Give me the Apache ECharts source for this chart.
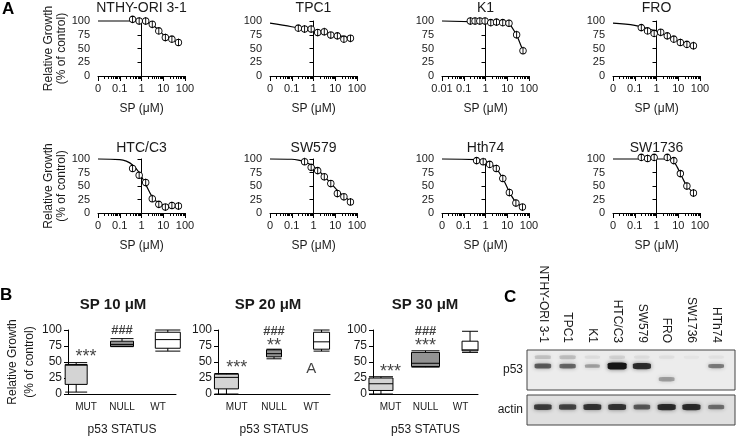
<!DOCTYPE html>
<html><head><meta charset="utf-8">
<script src="https://cdn.jsdelivr.net/npm/echarts@6/dist/echarts.min.js"></script>
<style>html,body{margin:0;padding:0;background:#fff}#c{width:736px;height:437px}</style>
</head><body><div id="c"></div>
<script>
// ---------------- Panel A data ----------------
const cellLines = ['NTHY-ORI 3-1', 'TPC1', 'K1', 'FRO', 'HTC/C3', 'SW579', 'Hth74', 'SW1736'];
const xMajorTicks = [0.01, 0.1, 1, 10, 100];
const xTickLabels = ['0', '0.1', '1', '10', '100'];
const xTickLabelsK1 = ['0.01', '0.1', '1', '10', '100'];
const xMinorTicks = [0.02,0.03,0.04,0.05,0.06,0.07,0.08,0.09,
  0.2,0.3,0.4,0.5,0.6,0.7,0.8,0.9, 2,3,4,5,6,7,8,9, 20,30,40,50,60,70,80,90];
const yTicks = [0, 25, 50, 75, 100];

const nthyX = [0.39, 0.78, 1.56, 3.13, 6.25, 12.5, 25, 50];
const nthyY = [103, 100, 100, 94, 82, 70, 67, 61];
const nthyCurveX = [0.01, 1, 1.56, 3.13, 6.25, 12.5, 25, 50];
const nthyCurveY = [100, 100, 98, 93, 83, 72, 65, 61];

const tpc1X = [0.2, 0.39, 0.78, 1.56, 3.13, 6.25, 12.5, 25, 50];
const tpc1Y = [87, 85.5, 85.5, 79, 80.5, 74.5, 73, 67, 68.5];
const tpc1CurveX = [0.01, 0.1, 1, 10, 50];
const tpc1CurveY = [96, 89.5, 82, 74.5, 69];

const k1X = [0.2, 0.33, 0.55, 0.95, 1.75, 3.2, 6.2, 12, 27, 53];
const k1Y = [100, 100, 100, 100, 97, 98, 97, 96, 75, 46];
const k1CurveX = [0.01, 12, 27, 53];
const k1CurveY = [100, 97, 75, 46];

const froX = [0.2, 0.39, 0.78, 1.56, 3.13, 6.25, 12.5, 25, 50];
const froY = [88, 82, 77.5, 79.5, 73, 67, 61, 57.5, 55];
const froCurveX = [0.01, 0.1, 0.5, 1, 3, 10, 25, 50];
const froCurveY = [96, 92, 85, 81, 73, 63, 58, 55];

const htcX = [0.39, 0.78, 1.56, 3.13, 6.25, 12.5, 25, 50];
const htcY = [82.5, 70, 56.5, 26.5, 16, 11, 14, 13];
const htcCurveX = [0.01, 0.1, 0.2, 0.39, 0.78, 1.56, 3.13, 6.25, 12.5, 25, 50];
const htcCurveY = [100, 99, 96, 89, 75, 53, 30, 18, 14, 13, 13];

const sw579X = [0.39, 0.78, 1.56, 3.13, 6.25, 12.5, 25, 50];
const sw579Y = [95, 84.5, 78.5, 67, 54.5, 36, 30, 20.5];
const sw579CurveX = [0.01, 0.1, 0.2, 0.39, 0.78, 1.56, 3.13, 6.25, 12.5, 25, 50];
const sw579CurveY = [100, 99.5, 98, 95, 89, 80, 68, 55, 42, 31, 22];

const hth74X = [0.39, 0.78, 1.56, 3.13, 6.25, 12.5, 25, 50];
const hth74Y = [97, 95, 90, 82.5, 64, 38, 18.5, 11];
const hth74CurveX = [0.01, 0.39, 0.78, 1.56, 3.13, 6.25, 12.5, 25, 50];
const hth74CurveY = [100, 99, 97, 92, 82, 64, 39, 20, 12];

const sw1736X = [0.2, 0.39, 0.78, 3.13, 6.25, 12.5, 25, 50];
const sw1736Y = [103, 101, 103, 103, 97, 73, 50, 37];
const sw1736CurveX = [0.01, 2, 4, 6.25, 9, 12.5, 18, 25, 50];
const sw1736CurveY = [100, 100, 99, 95, 85, 73, 60, 50, 37];

// ---------------- Panel B data ----------------
const p53Status = ['MUT', 'NULL', 'WT'];
const boxTitles = ['SP 10 \u03bcM', 'SP 20 \u03bcM', 'SP 30 \u03bcM'];
// [min, Q1, median, Q3, max]
const sp10Boxes = [[3, 15, 45, 46, 49], [74, 74.5, 77.5, 82.5, 86.5], [67, 71.5, 85, 96.5, 100]];
const sp20Boxes = [[0, 8, 26, 31, 32], [55, 58, 63, 69, 70], [67, 70, 81.5, 96.5, 100]];
const sp30Boxes = [[0, 5.5, 16, 25, 27], [42, 43, 48, 65, 67.5], [65, 67.5, 69, 82.5, 98]];
const sp10Annot = [['***', 0, 66], ['###', 1, 100]];
const sp20Annot = [['***', 0, 48], ['###', 1, 98], ['**', 1, 83], ['A', 2, 40]];
const sp30Annot = [['***', 0, 42], ['###', 1, 98], ['***', 1, 82]];

// ---------------- Panel C data ----------------
const blotLanes = ['NTHY-ORI 3-1', 'TPC1', 'K1', 'HTC/C3', 'SW579', 'FRO', 'SW1736', 'HTh74'];
const p53Main = [0.6, 0.55, 0.3, 1.0, 0.85, 0, 0, 0.45];
const p53Upper = [0.16, 0.18, 0.06, 0.1, 0.06, 0.05, 0.03, 0.04];
const p53Lower = [0, 0, 0, 0, 0, 0.3, 0, 0];
const actinBand = [0.75, 0.7, 0.8, 0.8, 0.6, 0.85, 0.85, 0.5];
const p53MainPos = 0.6, p53UpperPos = 0.82, p53LowerPos = 0.27, actinPos = 0.6;

// ---------------- build ----------------
const FONT = '"Liberation Sans", Arial, Helvetica, sans-serif';
const TXT = '#1a1a1a';
const doseSets = [
  [nthyX, nthyY, nthyCurveX, nthyCurveY, true],
  [tpc1X, tpc1Y, tpc1CurveX, tpc1CurveY, true],
  [k1X, k1Y, k1CurveX, k1CurveY, false],
  [froX, froY, froCurveX, froCurveY, true],
  [htcX, htcY, htcCurveX, htcCurveY, true],
  [sw579X, sw579Y, sw579CurveX, sw579CurveY, true],
  [hth74X, hth74Y, hth74CurveX, hth74CurveY, true],
  [sw1736X, sw1736Y, sw1736CurveX, sw1736CurveY, true]
];
const colLeft = [98, 270, 442, 613], rowTop = [21, 159], rowH = [55, 54], plotW = 87;

const grid = [], xAxis = [], yAxis = [], series = [], title = [];
const pointSymbol = 'path://M5,-1L5,11M0,5A5,5,0,1,1,10,5A5,5,0,1,1,0,5Z';
const minorTickPos = xMinorTicks.map(v => Math.log10(v));

doseSets.forEach((d, i) => {
  const r = Math.floor(i / 4), c = i % 4;
  grid.push({ left: colLeft[c], top: rowTop[r], width: plotW, height: rowH[r] });
  const labels = i === 2 ? xTickLabelsK1 : xTickLabels;
  xAxis.push({
    gridIndex: i, type: 'log', logBase: 10, min: 0.01, max: 100, position: 'bottom',
    axisLine: { onZero: false, lineStyle: { color: '#000', width: 1 } },
    axisTick: { length: 5, lineStyle: { color: '#000' } },
    axisLabel: { fontSize: 11, color: TXT, fontFamily: FONT, margin: 7,
      formatter: v => { const k = xMajorTicks.findIndex(t => Math.abs(Math.log10(t) - Math.log10(v)) < 0.01); return k >= 0 ? labels[k] : ''; } },
    splitLine: { show: false },
    name: 'SP (\u03bcM)', nameLocation: 'middle', nameGap: 27,
    nameTextStyle: { fontSize: 12, color: TXT, fontFamily: FONT }
  });
  // minor ticks (log-decade subdivisions) on a companion axis in log10 space
  xAxis.push({
    gridIndex: i, type: 'value', min: -2, max: 2, position: 'bottom',
    axisLine: { show: false, onZero: false },
    axisTick: { show: true, length: 3, lineStyle: { color: '#000' }, customValues: minorTickPos },
    axisLabel: { show: false }, splitLine: { show: false }
  });
  yAxis.push({
    gridIndex: i, type: 'value', min: 0, max: 100, interval: 25,
    axisLine: { show: true, lineStyle: { color: '#000', width: 1 } },
    axisTick: { show: true, length: 4, lineStyle: { color: '#000' } },
    axisLabel: { fontSize: 11, color: TXT, fontFamily: FONT, margin: 8 },
    splitLine: { show: false },
    name: c === 0 ? 'Relative Growth\n(% of control)' : '', nameLocation: 'middle', nameRotate: 90, nameGap: 26,
    nameTextStyle: { fontSize: 12, lineHeight: 13, color: TXT, fontFamily: FONT }
  });
  title.push({ text: cellLines[i], left: colLeft[c] + plotW / 2, top: r === 0 ? 1 : 141, textAlign: 'center', padding: 0,
    textStyle: { fontSize: 14, fontWeight: 'normal', color: TXT, fontFamily: FONT } });
  series.push({
    type: 'line', xAxisIndex: 2 * i, yAxisIndex: i, data: d[2].map((x, k) => [x, d[3][k]]),
    smooth: d[4] ? 0.35 : false, showSymbol: false, lineStyle: { color: '#000', width: 1.2 }, silent: true, z: 2, clip: false
  });
  series.push({
    type: 'scatter', xAxisIndex: 2 * i, yAxisIndex: i, data: d[0].map((x, k) => [x, d[1][k]]),
    symbol: pointSymbol, symbolSize: [6.5, 7.8], clip: false,
    itemStyle: { color: '#fff', borderColor: '#000', borderWidth: 1, opacity: 1 }, silent: true, z: 3
  });
});

// Panel B
const boxSets = [sp10Boxes, sp20Boxes, sp30Boxes];
const annSets = [sp10Annot, sp20Annot, sp30Annot];
const boxLeft = [68, 218, 373], boxAxisW = [108, 112, 105];
const boxWidths = [[22, 23, 25], [24, 15, 16], [24, 28, 16]];
const boxFill = ['#d4d4d4', '#939393', '#ffffff'];
const titleCx = [113, 268, 425];
boxSets.forEach((b, p) => {
  const gi = 8 + p;
  grid.push({ left: boxLeft[p], top: 330, width: boxAxisW[p], height: 67 });
  xAxis.push({
    gridIndex: gi, type: 'category', data: p53Status, position: 'bottom', boundaryGap: true,
    axisLine: { onZero: false, lineStyle: { color: '#000' } },
    axisTick: { alignWithLabel: true, length: 3, lineStyle: { color: '#000' } },
    axisLabel: { fontSize: 10, color: TXT, fontFamily: FONT, margin: 8 },
    splitLine: { show: false },
    name: 'p53 STATUS', nameLocation: 'middle', nameGap: 30,
    nameTextStyle: { fontSize: 12, color: TXT, fontFamily: FONT }
  });
  yAxis.push({
    gridIndex: gi, type: 'value', min: 0, max: 100, interval: 25,
    axisLine: { show: true, lineStyle: { color: '#000' } },
    axisTick: { show: true, length: 4, lineStyle: { color: '#000' } },
    axisLabel: { fontSize: 12, color: TXT, fontFamily: FONT, margin: 6 },
    splitLine: { show: false },
    name: p === 0 ? 'Relative Growth\n(% of control)' : '', nameLocation: 'middle', nameRotate: 90, nameGap: 23,
    nameTextStyle: { fontSize: 12, lineHeight: 17, color: TXT, fontFamily: FONT }
  });
  title.push({ text: boxTitles[p], left: titleCx[p], top: 297, textAlign: 'center', padding: 0,
    textStyle: { fontSize: 15, fontWeight: 'bold', color: TXT, fontFamily: FONT } });
  b.forEach((vals, k) => {
    const row = [null, null, null];
    row[k] = vals;
    series.push({
      type: 'boxplot', xAxisIndex: 16 + p, yAxisIndex: gi,
      data: row.map(v => v || '-'), boxWidth: [boxWidths[p][k], boxWidths[p][k]],
      itemStyle: { color: boxFill[k], borderColor: '#000', borderWidth: 1 }, silent: true
    });
  });
  series.push({
    type: 'scatter', xAxisIndex: 16 + p, yAxisIndex: gi, symbolSize: 0, silent: true, clip: false,
    data: annSets[p].map(a => ({
      value: [a[1], a[2]],
      label: a[0].indexOf('*') >= 0 ? { formatter: a[0], fontSize: 18, offset: [0, 5] }
        : a[0] === 'A' ? { formatter: a[0], fontSize: 15, offset: [0, 0] }
        : { formatter: a[0], fontSize: 13, fontWeight: 'bold', offset: [0, 0] }
    })),
    label: { show: true, position: 'inside', color: '#111', fontFamily: FONT, verticalAlign: 'middle' }
  });
});

// Panel C (blot)
grid.push({ left: 527, top: 350, width: 208, height: 40, show: true, backgroundColor: '#ececec', borderColor: '#444', borderWidth: 1 });
grid.push({ left: 527, top: 395, width: 208, height: 30, show: true, backgroundColor: '#e0e0e0', borderColor: '#444', borderWidth: 1 });
xAxis.push({
  gridIndex: 11, type: 'value', min: -0.64, max: 7.76, position: 'top',
  axisLine: { show: false, onZero: false }, axisTick: { show: false }, splitLine: { show: false },
  axisLabel: { customValues: [0, 1, 2, 3, 4, 5, 6, 7], formatter: v => blotLanes[Math.round(v)], rotate: 90, fontSize: 12, color: TXT, fontFamily: FONT, margin: 7 }
});
xAxis.push({ gridIndex: 12, type: 'value', min: -0.64, max: 7.76, show: false });
yAxis.push({ gridIndex: 11, type: 'value', min: 0, max: 1, axisLine: { show: false }, axisTick: { show: false }, axisLabel: { show: false }, splitLine: { show: false },
  name: 'p53', nameLocation: 'middle', nameRotate: 0, nameGap: 4, nameTextStyle: { fontSize: 12, color: TXT, fontFamily: FONT } });
yAxis.push({ gridIndex: 12, type: 'value', min: 0, max: 1, axisLine: { show: false }, axisTick: { show: false }, axisLabel: { show: false }, splitLine: { show: false },
  name: 'actin', nameLocation: 'middle', nameRotate: 0, nameGap: 4, nameTextStyle: { fontSize: 12, color: TXT, fontFamily: FONT } });

function bands(intens, pos, wBase, hBase) {
  return intens.map((v, i) => ({ value: [i, pos], symbolSize: [wBase + 6 * v, hBase + 5 * v], itemStyle: { opacity: Math.min(1, v) } }))
    .filter(o => o.itemStyle.opacity > 0);
}
const bandStyle = { color: '#151515', shadowBlur: 4, shadowColor: 'rgba(0,0,0,0.55)' };
[[p53Main, p53MainPos, 13, 2, 11], [p53Upper, p53UpperPos, 15, 3, 11], [p53Lower, p53LowerPos, 14, 3, 11], [actinBand, actinPos, 13, 2, 12]].forEach(s => {
  series.push({ type: 'scatter', xAxisIndex: s[4] === 11 ? 19 : 20, yAxisIndex: s[4], symbol: 'roundRect', data: bands(s[0], s[1], s[2], s[3]), itemStyle: bandStyle, silent: true });
});

// Panel letters
[['A', 2, 1], ['B', 0, 287], ['C', 504, 289]].forEach(t => title.push({ text: t[0], left: t[1], top: t[2], padding: 0,
  textStyle: { fontSize: 17, fontWeight: 'bold', color: '#000', fontFamily: FONT } }));

const chart = echarts.init(document.getElementById('c'), null, { renderer: 'canvas' });
chart.setOption({ animation: false, backgroundColor: '#fff', textStyle: { fontFamily: FONT }, title, grid, xAxis, yAxis, series });
</script></body></html>
